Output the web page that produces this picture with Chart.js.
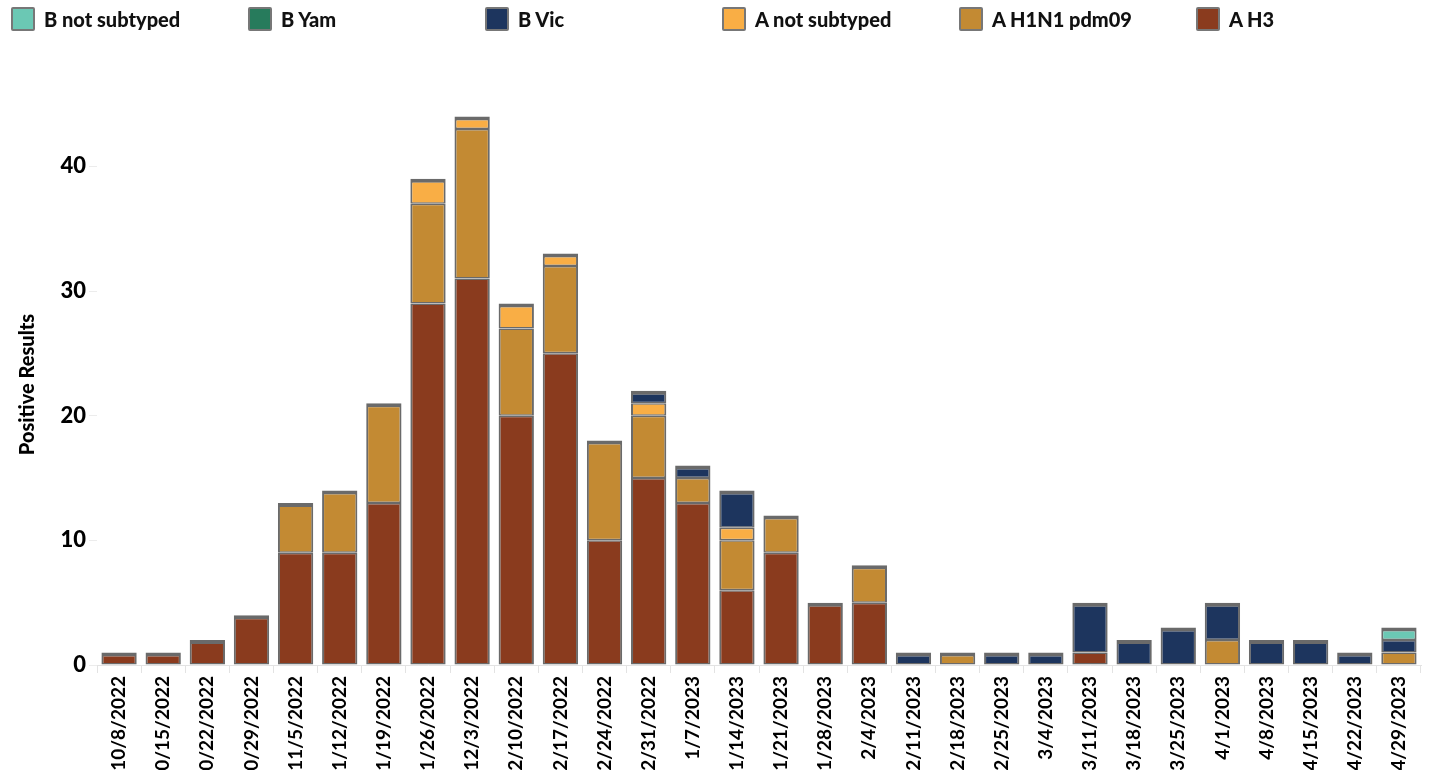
<!DOCTYPE html>
<html>
<head>
<meta charset="utf-8">
<script src="https://cdn.jsdelivr.net/npm/chart.js@4"></script>
<style>
  body { margin: 0; overflow: hidden; background: #fff; font-family: Lato, sans-serif; }
  #wrap { position: relative; width: 1435px; height: 770px; overflow: hidden; }
  #chart { position: absolute; left: 0; top: 0; }
  #legend { position: absolute; left: 11px; top: 7px; display: flex; }
  .item { width: 237px; display: flex; align-items: center; font-weight: 900; font-size: 20px; color: #111; }
  .box { width: 20px; height: 20px; border: 2px solid #777; border-radius: 2px; margin-right: 9px; }
</style>
</head>
<body>
<div id="wrap">
  <canvas id="chart"></canvas>
  <div id="legend"></div>
</div>
<script>
const weeks = [
  "10/8/2022", "10/15/2022", "10/22/2022", "10/29/2022", "11/5/2022", "11/12/2022",
  "11/19/2022", "11/26/2022", "12/3/2022", "12/10/2022", "12/17/2022", "12/24/2022",
  "12/31/2022", "1/7/2023", "1/14/2023", "1/21/2023", "1/28/2023", "2/4/2023",
  "2/11/2023", "2/18/2023", "2/25/2023", "3/4/2023", "3/11/2023", "3/18/2023",
  "3/25/2023", "4/1/2023", "4/8/2023", "4/15/2023", "4/22/2023", "4/29/2023"
];

// stacked bottom to top
const aH3          = [1,1,2,4,9,9,13,29,31,20,25,10,15,13,6,9,5,5,0,0,0,0,1,0,0,0,0,0,0,0];
const aH1N1        = [0,0,0,0,4,5,8,8,12,7,7,8,5,2,4,3,0,3,0,1,0,0,0,0,0,2,0,0,0,1];
const aNotSubtyped = [0,0,0,0,0,0,0,2,1,2,1,0,1,0,1,0,0,0,0,0,0,0,0,0,0,0,0,0,0,0];
const bVic         = [0,0,0,0,0,0,0,0,0,0,0,0,1,1,3,0,0,0,1,0,1,1,4,2,3,3,2,2,1,1];
const bYam         = [0,0,0,0,0,0,0,0,0,0,0,0,0,0,0,0,0,0,0,0,0,0,0,0,0,0,0,0,0,0];
const bNotSubtyped = [0,0,0,0,0,0,0,0,0,0,0,0,0,0,0,0,0,0,0,0,0,0,0,0,0,0,0,0,0,1];

const yTicks = [0, 10, 20, 30, 40];

const series = [
  { label: "A H3", data: aH3, color: "#8a3b1e" },
  { label: "A H1N1 pdm09", data: aH1N1, color: "#c38a33" },
  { label: "A not subtyped", data: aNotSubtyped, color: "#f9ae45" },
  { label: "B Vic", data: bVic, color: "#1d355e" },
  { label: "B Yam", data: bYam, color: "#277b5c" },
  { label: "B not subtyped", data: bNotSubtyped, color: "#6bc8b4" }
];

// the topmost non-zero segment of each bar gets a thick grey cap
function isTop(d, i) {
  for (let k = d + 1; k < series.length; k++) {
    if (series[k].data[i] > 0) return false;
  }
  return true;
}

const canvas = document.getElementById("chart");
canvas.width = 1435;
canvas.height = 790;

const chart = new Chart(canvas.getContext("2d"), {
  type: "bar",
  data: {
    labels: weeks,
    datasets: series.map((s, d) => ({
      label: s.label,
      data: s.data,
      backgroundColor: s.color,
      borderColor: "#6a6a6a",
      borderSkipped: false,
      borderWidth: (ctx) => {
        const v = s.data[ctx.dataIndex];
        if (!v) return 0;
        if (isTop(d, ctx.dataIndex)) return { top: 4, left: 2, right: 2, bottom: 1.5 };
        return { top: 1.5, left: 2, right: 2, bottom: 1.5 };
      },
      barPercentage: 0.8,
      categoryPercentage: 1
    }))
  },
  options: {
    responsive: false,
    animation: false,
    layout: { padding: { top: 104, right: 14, left: 0, bottom: 0 } },
    plugins: {
      legend: { display: false },
      tooltip: { enabled: false }
    },
    scales: {
      x: {
        stacked: true,
        afterFit: (axis) => { axis.height = 125; },
        grid: { offset: true, drawOnChartArea: false, color: "#e3e3e3", tickLength: 8 },
        border: { color: "#e3e3e3" },
        ticks: {
          autoSkip: false,
          minRotation: 90,
          maxRotation: 90,
          padding: 3,
          color: "#000",
          font: { family: "Lato", weight: "bold", size: 19 }
        }
      },
      y: {
        stacked: true,
        min: 0,
        max: 45,
        afterFit: (axis) => { axis.width = 97; },
        afterBuildTicks: (axis) => {
          axis.ticks = yTicks.map((v) => ({ value: v }));
        },
        grid: { drawOnChartArea: false, color: "#ececec", tickLength: 8 },
        border: { display: false },
        ticks: {
          padding: 3,
          color: "#000",
          font: { family: "Lato", weight: "900", size: 22 }
        },
        title: {
          display: true,
          text: "Positive Results",
          color: "#000",
          padding: { top: 16, bottom: 0 },
          font: { family: "Lato", weight: "900", size: 20 }
        }
      }
    }
  }
});

// legend in the original's order (reverse of stacking)
const legend = document.getElementById("legend");
chart.data.datasets.slice().reverse().forEach((ds) => {
  const item = document.createElement("div");
  item.className = "item";
  const box = document.createElement("span");
  box.className = "box";
  box.style.background = ds.backgroundColor;
  item.appendChild(box);
  item.appendChild(document.createTextNode(ds.label));
  legend.appendChild(item);
});
</script>
</body>
</html>
